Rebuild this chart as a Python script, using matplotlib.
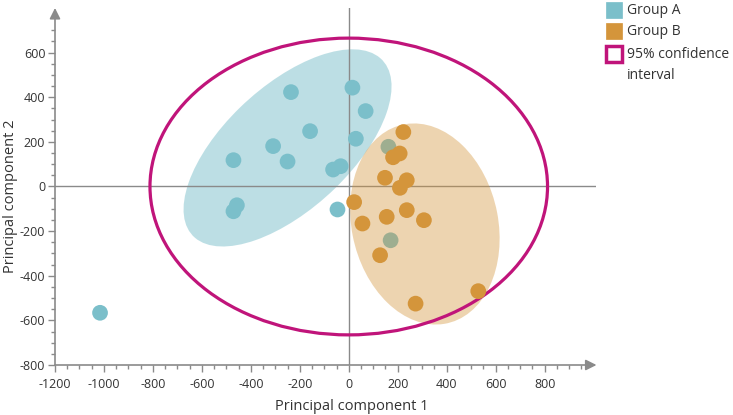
import numpy as np
import matplotlib
matplotlib.use('Agg')
import matplotlib.pyplot as plt
from matplotlib.patches import Ellipse, Rectangle

plt.rcParams['font.family'] = ['Open Sans', 'DejaVu Sans']
plt.rcParams['axes.unicode_minus'] = False

# PCA scores
group_a_x = [-236, 15, 69, -158, 29, -309, -471, -250, -64, -33, -457, -471, -46, -1016, 162, 171]
group_a_y = [423, 443, 338, 248, 214, 181, 118, 112, 76, 91, -84, -111, -103, -566, 178, -241]
group_b_x = [223, 208, 181, 148, 237, 209, 22, 237, 155, 307, 56, 128, 273, 529]
group_b_y = [244, 148, 131, 39, 28, -6, -70, -106, -136, -151, -166, -308, -525, -469]

# group ellipses: centre, full width, full height, angle (data units)
ellipse_a = ((-250, 173), 1105, 531, 46.8)
ellipse_b = ((311, -168), 909, 599, -80)
ellipse_ci = ((0, 0), 1624, 1330, 0)

x_ticks = [-1200, -1000, -800, -600, -400, -200, 0, 200, 400, 600, 800]
y_ticks = [-800, -600, -400, -200, 0, 200, 400, 600]

legend_labels = ['Group A', 'Group B', '95% confidence\ninterval']

col_a = '#7bbfca'
col_b = '#d4953b'
col_ci = '#c0147a'
col_axis = '#8a8a8a'
col_text = '#333333'

W, H = 733, 415
fig = plt.figure(figsize=(W / 100, H / 100), dpi=100)
ax = fig.add_axes([55 / W, 1 - 365 / H, 541 / W, 357 / H])
ax.set_xlim(-1200, 1010)
ax.set_ylim(-800, 800)

for s in ax.spines.values():
    s.set_visible(False)

ax.add_patch(Ellipse(ellipse_a[0], ellipse_a[1], ellipse_a[2], angle=ellipse_a[3],
                     facecolor=col_a, alpha=0.5, edgecolor='none', zorder=1))
ax.axhline(0, color=col_axis, lw=1, zorder=1.5)
ax.axvline(0, color=col_axis, lw=1, zorder=1.5)
ax.scatter(group_a_x, group_a_y, s=128, color=col_a, edgecolors='none', zorder=2)
ax.add_patch(Ellipse(ellipse_b[0], ellipse_b[1], ellipse_b[2], angle=ellipse_b[3],
                     facecolor=col_b, alpha=0.4, edgecolor='none', zorder=3))
ax.add_patch(Ellipse(ellipse_ci[0], ellipse_ci[1], ellipse_ci[2], angle=ellipse_ci[3],
                     facecolor='none', edgecolor=col_ci, lw=2.3, zorder=3.5))
ax.scatter(group_b_x, group_b_y, s=128, color=col_b, edgecolors='none', zorder=4)

# axis lines with arrow heads
ax.annotate('', xy=(1012, -800), xytext=(-1200, -800), annotation_clip=False,
            arrowprops=dict(arrowstyle='-|>', color=col_axis, lw=1.2, mutation_scale=16,
                            shrinkA=0, shrinkB=0))
ax.annotate('', xy=(-1200, 800), xytext=(-1200, -800), annotation_clip=False,
            arrowprops=dict(arrowstyle='-|>', color=col_axis, lw=1.2, mutation_scale=16,
                            shrinkA=0, shrinkB=0))

ax.set_xticks(x_ticks)
ax.set_yticks(y_ticks)
ax.set_xticks([v for v in np.arange(-1150, 951, 50) if v not in x_ticks], minor=True)
ax.set_yticks([v for v in np.arange(-750, 701, 50) if v not in y_ticks], minor=True)
ax.tick_params(which='major', length=5, width=1, color=col_axis, labelsize=9,
               labelcolor=col_text)
ax.tick_params(axis='x', which='major', pad=4)
ax.tick_params(axis='y', which='major', pad=2)
ax.tick_params(which='minor', length=3, width=1, color=col_axis)

ax.set_xlabel('Principal component 1', fontsize=10.5, color=col_text)
ax.set_ylabel('Principal component 2', fontsize=10.5, color=col_text)
ax.xaxis.set_label_coords(0.549, -0.094)
ax.yaxis.set_label_coords(-0.068, 0.473)

# legend drawn by hand (pixel layout of the reference)
box_x, box = 606, 16
row_y = [10, 31, 54]
faces = [col_a, col_b, 'white']
edges = [col_a, col_b, col_ci]
widths = [0.5, 0.5, 2.5]
for lab, yc, fc, ec, lw in zip(legend_labels, row_y, faces, edges, widths):
    fig.add_artist(Rectangle((box_x / W, 1 - (yc + box / 2) / H), box / W, box / H,
                             transform=fig.transFigure, facecolor=fc, edgecolor=ec, lw=lw))
    fig.text(627 / W, 1 - (yc - 7) / H, lab, fontsize=10, color=col_text,
             va='top', ha='left', linespacing=1.55)

fig.savefig('out.png', dpi=100)
